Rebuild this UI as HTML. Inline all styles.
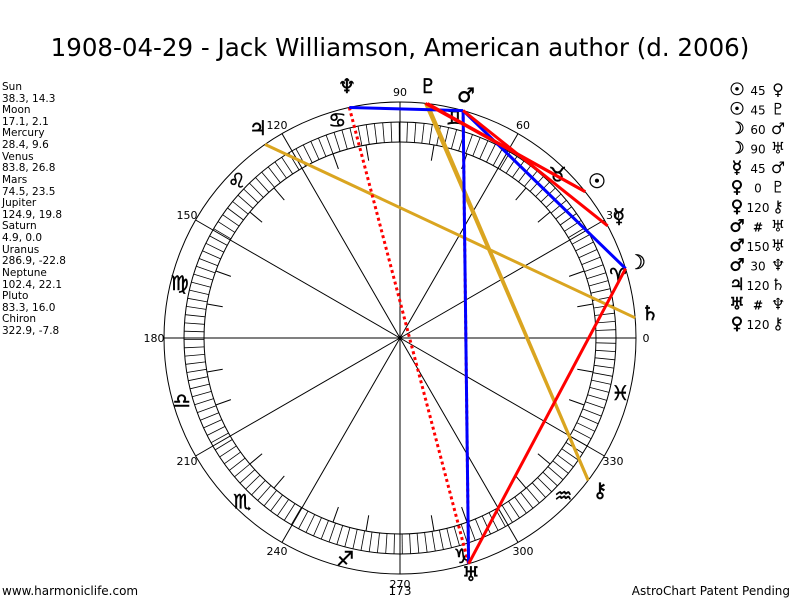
<!DOCTYPE html>
<html><head><meta charset="utf-8"><style>
body{margin:0;background:#fff;width:800px;height:600px;overflow:hidden;font-family:"DejaVu Sans",sans-serif}
svg{position:absolute;left:0;top:0}
</style></head><body>
<svg id="s" width="800" height="600" xmlns="http://www.w3.org/2000/svg" font-family="DejaVu Sans, sans-serif">
<text x="400" y="56" font-size="24.5" text-anchor="middle">1908-04-29 - Jack Williamson, American author (d. 2006)</text>
<g font-size="10.5" fill="#000">
<text x="2" y="90">Sun</text><text x="2" y="102">38.3, 14.3</text>
<text x="2" y="113">Moon</text><text x="2" y="125">17.1, 2.1</text>
<text x="2" y="136">Mercury</text><text x="2" y="148">28.4, 9.6</text>
<text x="2" y="160">Venus</text><text x="2" y="171">83.8, 26.8</text>
<text x="2" y="183">Mars</text><text x="2" y="195">74.5, 23.5</text>
<text x="2" y="206">Jupiter</text><text x="2" y="218">124.9, 19.8</text>
<text x="2" y="229">Saturn</text><text x="2" y="241">4.9, 0.0</text>
<text x="2" y="253">Uranus</text><text x="2" y="264">286.9, -22.8</text>
<text x="2" y="276">Neptune</text><text x="2" y="288">102.4, 22.1</text>
<text x="2" y="299">Pluto</text><text x="2" y="311">83.3, 16.0</text>
<text x="2" y="322">Chiron</text><text x="2" y="334">322.9, -7.8</text>
<text x="2" y="595" font-size="12">www.harmoniclife.com</text>
<text x="400" y="595" font-size="12" text-anchor="middle">173</text>
<text x="790" y="595" font-size="12" text-anchor="end">AstroChart Patent Pending</text>
</g>
<g id="chart"></g>
</svg>
<script>
var cx=400,cy=338,R=236,s='';
function P(a,r){var t=a*Math.PI/180;return [cx+r*Math.cos(t),cy-r*Math.sin(t)];}
function L(a,b,st){s+='<line x1="'+a[0].toFixed(1)+'" y1="'+a[1].toFixed(1)+'" x2="'+b[0].toFixed(1)+'" y2="'+b[1].toFixed(1)+'" '+st+'/>';}
s+='<circle cx="400" cy="338" r="236" fill="none" stroke="#000" stroke-width="1"/>';
s+='<circle cx="400" cy="338" r="216" fill="none" stroke="#000" stroke-width="1"/>';
s+='<circle cx="400" cy="338" r="196" fill="none" stroke="#000" stroke-width="1"/>';
for(var a=0;a<360;a+=2.2){L(P(a,196),P(a,216),'stroke="#000" stroke-width="0.8"');}
for(var a=0;a<360;a+=10){if(a%30)L(P(a,180),P(a,196),'stroke="#000" stroke-width="1"');}
for(var a=0;a<360;a+=30){L([cx,cy],P(a,R),'stroke="#000" stroke-width="1"');
 var p=P(a,246);s+='<text x="'+p[0].toFixed(1)+'" y="'+(p[1]+4).toFixed(1)+'" font-size="11" text-anchor="middle">'+a+'</text>';}
var signs=['♈','♉','♊','♋','♌','♍','♎','♏','♐','♑','♒','♓'];
for(var i=0;i<12;i++){var p=P(16+30*i,227);s+='<text x="'+p[0].toFixed(1)+'" y="'+(p[1]+7).toFixed(1)+'" font-size="20" text-anchor="middle" stroke="#000" stroke-width="0.5">'+signs[i]+'\uFE0E</text>';}
var pl={Su:38.3,Mo:17.1,Me:28.4,Ve:83.8,Ma:74.5,Ju:124.9,Sa:4.9,Ur:286.9,Ne:102.4,Pl:83.3,Ch:322.9};
var red='stroke="#f00" stroke-width="3"',blue='stroke="#00f" stroke-width="3"',gold='stroke="#daa520" stroke-width="3"',dot='stroke="#f00" stroke-width="3" stroke-dasharray="3,3"';
function A(a,b,st){L(P(pl[a],R),P(pl[b],R),st);}
A('Ju','Sa',gold);A('Ve','Ch',gold);A('Pl','Ch',gold);
A('Ne','Ur',dot);A('Ma','Ur',dot);
A('Ma','Ur',blue);A('Ma','Ne',blue);A('Mo','Ma',blue);
A('Su','Ve',red);A('Su','Pl',red);A('Me','Ma',red);A('Mo','Ur',red);
var g={Su:['☉',[597,188]],Mo:['☽',[637,269]],Me:['☿',[619,223]],Ma:['♂',[466,102]],Ju:['♃',[258,135]],Sa:['♄',[650,320]],Ur:['♅',[471,581]],Ne:['♆',[347,93]],Pl:['♇',[428,93]],Ch:['⚷',[600,497]]};
for(var k in g){s+='<text x="'+g[k][1][0]+'" y="'+g[k][1][1]+'" font-size="20" text-anchor="middle" stroke="#000" stroke-width="0.5">'+g[k][0]+'\uFE0E</text>';}
var asp=[['☉','45','♀'],['☉','45','♇'],['☽','60','♂'],['☽','90','♅'],['☿','45','♂'],['♀','0','♇'],['♀','120','⚷'],['♂','#','♅'],['♂','150','♅'],['♂','30','♆'],['♃','120','♄'],['♅','#','♆'],['♀','120','⚷']];
for(var i=0;i<asp.length;i++){var y=95+i*19.5;
 s+='<text x="737" y="'+y+'" font-size="17" text-anchor="middle" stroke="#000" stroke-width="0.5">'+asp[i][0]+'\uFE0E</text>';
 s+='<text x="758" y="'+y+'" font-size="12" text-anchor="middle"'+(asp[i][1]=='#'?' font-weight="bold" font-size="16"':'')+'>'+asp[i][1]+'</text>';
 s+='<text x="778" y="'+y+'" font-size="16" text-anchor="middle">'+asp[i][2]+'\uFE0E</text>';}
document.getElementById('chart').innerHTML=s;
</script>
</body></html>
